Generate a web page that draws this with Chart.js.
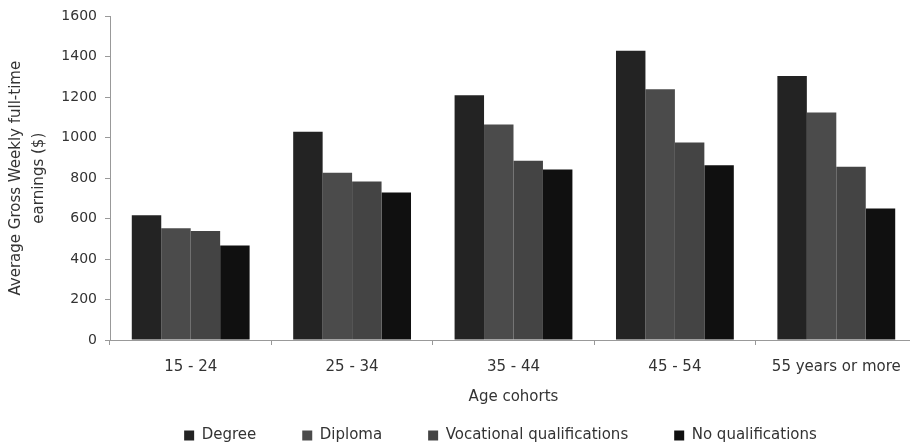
<!DOCTYPE html>
<html>
<head>
<meta charset="utf-8">
<script src="https://cdn.jsdelivr.net/npm/chart.js@4"></script>
<style>
  html, body { margin: 0; padding: 0; overflow: hidden; background: #fff; }
  #wrap { position: absolute; left: 0; top: 0; width: 920px; height: 446px; }
</style>
</head>
<body>
<div id="wrap"><canvas id="earningsChart"></canvas></div>
<script>
// Age cohorts on the x axis
const ageCohorts = ['15 - 24', '25 - 34', '35 - 44', '45 - 54', '55 years or more'];

// Average gross weekly full-time earnings ($) per qualification
const degree = [617, 1030, 1210, 1430, 1305];
const diploma = [552, 827, 1066, 1240, 1125];
const vocational = [539, 784, 886, 977, 857];
const noQualifications = [467, 729, 843, 864, 650];

const yTicks = [0, 200, 400, 600, 800, 1000, 1200, 1400, 1600];

const font = 'DejaVu Sans';

// the legend keeps a wide gap between items but only a short box,
// so move it right and pull its top up after layout (bottom stays so nothing is clipped)
const legendShift = {
  id: 'legendShift',
  afterLayout(chart) {
    const lg = chart.legend;
    lg.left += 42;
    lg.right += 42;
    lg.top -= 23;
  }
};

new Chart(document.getElementById('earningsChart'), {
  type: 'bar',
  data: {
    labels: ageCohorts,
    datasets: [
      { label: 'Degree', data: degree, backgroundColor: '#232323' },
      { label: 'Diploma', data: diploma, backgroundColor: '#4b4b4b' },
      { label: 'Vocational qualifications', data: vocational, backgroundColor: '#444444' },
      { label: 'No qualifications', data: noQualifications, backgroundColor: '#101010' }
    ]
  },
  options: {
    responsive: true,
    maintainAspectRatio: false,
    animation: false,
    datasets: {
      bar: { categoryPercentage: 0.73, barPercentage: 1.0 }
    },
    layout: { padding: { top: 15, right: 3, left: 0, bottom: 0 } },
    scales: {
      x: {
        grid: { display: true, drawOnChartArea: false, tickLength: 5, color: '#999' },
        border: { display: true, color: '#999' },
        ticks: { color: '#333', font: { family: font, size: 15, lineHeight: 1.0 }, padding: 15, maxRotation: 0 },
        title: {
          display: true,
          text: 'Age cohorts',
          color: '#333',
          font: { family: font, size: 15, lineHeight: 1.0 },
          padding: { top: 0, bottom: 0 }
        }
      },
      y: {
        min: 0,
        max: 1600,
        afterBuildTicks(scale) {
          scale.ticks = yTicks.map(v => ({ value: v }));
        },
        afterFit(scale) {
          scale.width = 110;
        },
        grid: { display: true, drawOnChartArea: false, tickLength: 5, color: '#999' },
        border: { display: true, color: '#999' },
        ticks: {
          color: '#333',
          font: { family: font, size: 14 },
          padding: 8,
          callback: v => String(v)
        },
        title: {
          display: true,
          text: ['Average Gross Weekly full-time', 'earnings ($)'],
          color: '#333',
          font: { family: font, size: 15, lineHeight: 1.53 },
          padding: { top: 5, bottom: 0 }
        }
      }
    },
    plugins: {
      legend: {
        position: 'bottom',
        maxHeight: 41,
        labels: {
          color: '#333',
          font: { family: font, size: 15 },
          boxWidth: 10,
          boxHeight: 10,
          padding: 46
        }
      },
      tooltip: { enabled: false }
    }
  },
  plugins: [legendShift]
});
</script>
</body>
</html>
